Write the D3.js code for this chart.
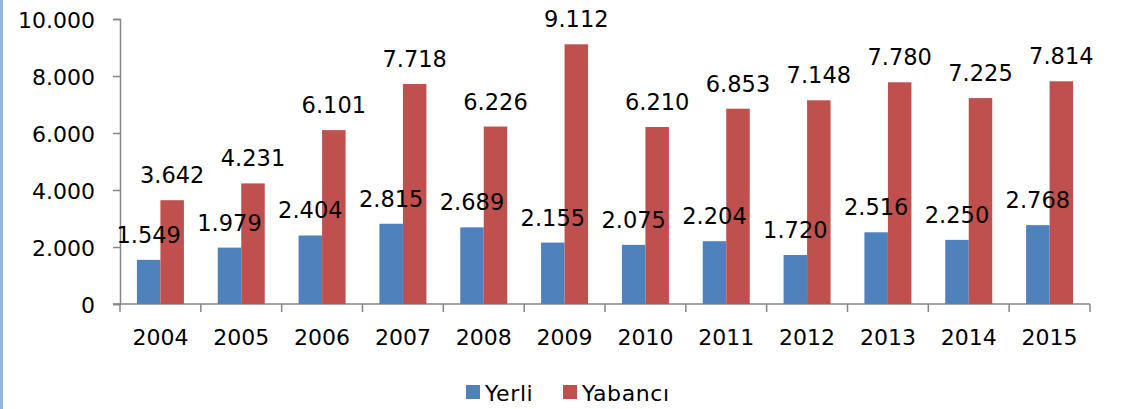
<!DOCTYPE html>
<html lang="tr">
<head>
<meta charset="utf-8">
<title>Yerli / Yabancı</title>
<script src="https://d3js.org/d3.v7.min.js"></script>
<style>
  body { margin: 0; background: #fff; }
  text { font-family: "DejaVu Sans", Verdana, sans-serif; fill: #000; }
</style>
</head>
<body>
<script>
"use strict";

// data
const years = ["2004","2005","2006","2007","2008","2009","2010","2011","2012","2013","2014","2015"];
const yerli = [1549, 1979, 2404, 2815, 2689, 2155, 2075, 2204, 1720, 2516, 2250, 2768];
const yabanci = [3642, 4231, 6101, 7718, 6226, 9112, 6210, 6853, 7148, 7780, 7225, 7814];
const yTicks = [0, 2000, 4000, 6000, 8000, 10000];
const seriesNames = ["Yerli", "Yabancı"];
const colors = ["#4F81BD", "#C0504D"];

const w = 1131, h = 409;
const tr = d3.formatLocale({decimal: ",", thousands: ".", grouping: [3], currency: ["", ""]});
const fmt = tr.format(",d");

const svg = d3.select("body").append("svg")
    .attr("width", w)
    .attr("height", h);

// left frame line
svg.append("line")
    .attr("x1", 1.5).attr("x2", 1.5)
    .attr("y1", 0).attr("y2", h)
    .style("stroke", "#95B3D7")
    .style("stroke-width", 3);

const x = d3.scaleBand().domain(years).range([120, 1090]);
const y = d3.scaleLinear().domain([0, 10000]).range([304, 19]);
const barW = 23.5;

// y axis
const yAxis = svg.append("g")
    .attr("transform", "translate(120,0)")
    .call(d3.axisLeft(y).tickValues(yTicks).tickFormat(fmt).tickSize(7).tickPadding(18));
yAxis.select(".domain").attr("stroke", "#868686").attr("stroke-width", 1.5);
yAxis.selectAll(".tick line").attr("stroke", "#868686").attr("stroke-width", 1.5);
yAxis.selectAll("text").style("font-size", "22px").attr("dy", "0.38em");

// x axis, ticks between categories
const xAxis = svg.append("g")
    .attr("transform", "translate(0,304)");
xAxis.append("line")
    .attr("x1", 113).attr("x2", 1090)
    .style("stroke", "#868686").style("stroke-width", 1.5);
xAxis.selectAll(".xt")
    .data(years.concat(["end"]))
    .enter().append("line")
    .attr("x1", (d, i) => i < years.length ? x(d) : x.range()[1])
    .attr("x2", (d, i) => i < years.length ? x(d) : x.range()[1])
    .attr("y1", 0).attr("y2", 8)
    .style("stroke", "#868686").style("stroke-width", 1.5);
xAxis.selectAll(".xl")
    .data(years)
    .enter().append("text")
    .attr("x", d => x(d) + x.bandwidth() / 2)
    .attr("y", 41)
    .attr("text-anchor", "middle")
    .style("font-size", "22px")
    .text(d => d);

// bars
const series = [yerli, yabanci];
series.forEach(function(vals, s) {
    const g = svg.append("g");
    g.selectAll("rect")
        .data(vals)
        .enter().append("rect")
        .attr("x", (d, i) => x(years[i]) + x.bandwidth() / 2 - barW + s * barW)
        .attr("y", d => y(d))
        .attr("width", barW)
        .attr("height", d => y(0) - y(d))
        .style("fill", colors[s]);
});

// value labels (drawn after all bars)
series.forEach(function(vals, s) {
    svg.append("g").selectAll("text")
        .data(vals)
        .enter().append("text")
        .attr("x", (d, i) => x(years[i]) + x.bandwidth() / 2 - barW / 2 + s * barW)
        .attr("y", d => y(d) - 17)
        .attr("text-anchor", "middle")
        .style("font-size", "22.5px")
        .text(d => fmt(d));
});

// legend
const legend = svg.append("g").attr("transform", "translate(466,385)");
const items = [{x: 0, name: seriesNames[0], c: colors[0]}, {x: 97, name: seriesNames[1], c: colors[1]}];
items.forEach(function(it) {
    legend.append("rect")
        .attr("x", it.x).attr("y", 0)
        .attr("width", 14).attr("height", 14)
        .style("fill", it.c);
    legend.append("text")
        .attr("x", it.x + 19).attr("y", 16)
        .style("font-size", "22px")
        .style("letter-spacing", "0.6px")
        .text(it.name);
});
</script>
</body>
</html>
